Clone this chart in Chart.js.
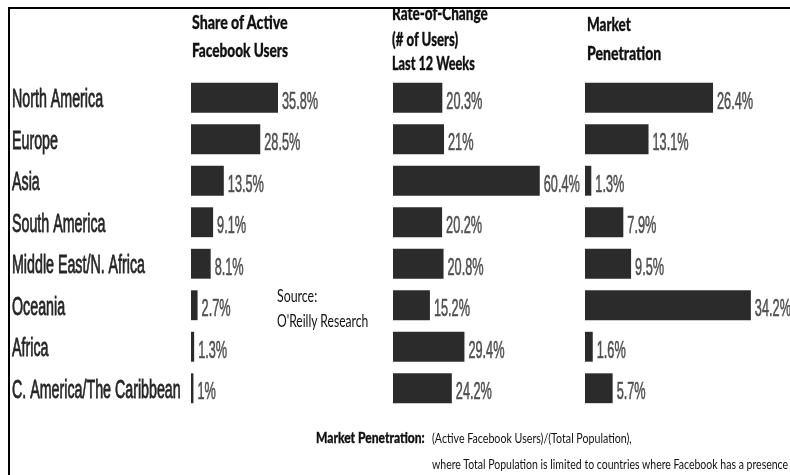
<!DOCTYPE html>
<html>
<head>
<meta charset="utf-8">
<script src="https://cdn.jsdelivr.net/npm/chart.js@4"></script>
<style>
  html, body { margin:0; padding:0; background:#fff; overflow:hidden; }
  body { width:790px; height:475px; position:relative; }
  .frame { position:absolute; left:8px; top:7px; width:790px; height:480px; border-top:2px solid #000; border-left:2px solid #000; }
  canvas { position:absolute; top:0; }
  .txt { position:absolute; white-space:nowrap; transform-origin:0 50%; color:#111; font-family:Lato, "Open Sans", sans-serif; }
  .hdr { font-weight:900; font-size:18px; -webkit-text-stroke:0.3px #111; }
  .clip { position:absolute; overflow:hidden; }
</style>
</head>
<body>
<div class="frame"></div>
<canvas id="c1" width="430" height="475" style="left:0"></canvas>
<canvas id="c2" width="240" height="475" style="left:393px"></canvas>
<canvas id="c3" width="205" height="475" style="left:585px"></canvas>
<div id="texts"></div>
<script>
const categories = ['North America','Europe','Asia','South America','Middle East/N. Africa','Oceania','Africa','C. America/The Caribbean'];
const shareOfActiveUsers = [35.8, 28.5, 13.5, 9.1, 8.1, 2.7, 1.3, 1];
const rateOfChange = [20.3, 21, 60.4, 20.2, 20.8, 15.2, 29.4, 24.2];
const marketPenetration = [26.4, 13.1, 1.3, 7.9, 9.5, 34.2, 1.6, 5.7];
const headerShare = ['Share of Active', 'Facebook Users'];
const headerRate = ['Rate-of-Change', '(# of Users)', 'Last 12 Weeks'];
const headerPenetration = ['Market', 'Penetration'];
const sourceLines = ['Source:', "O'Reilly Research"];
const noteTitle = 'Market Penetration:';
const noteLines = ['(Active Facebook Users)/(Total Population),', 'where Total Population is limited to countries where Facebook has a presence'];

const labelPlugin = {
  id: 'barLabels',
  afterDatasetsDraw(chart, args, opts) {
    const ctx = chart.ctx;
    const meta = chart.getDatasetMeta(0);
    const vals = chart.data.datasets[0].data;
    ctx.save();
    ctx.textBaseline = 'alphabetic';
    ctx.textAlign = 'left';
    ctx.fillStyle = '#505050';
    ctx.strokeStyle = '#505050';
    ctx.lineWidth = 0.6;
    ctx.font = '24px "Liberation Sans", Arial, sans-serif';
    meta.data.forEach((bar, i) => {
      ctx.save();
      ctx.translate(bar.x + 4, bar.y + 11);
      ctx.scale(0.53, 1);
      ctx.fillText(vals[i] + '%', 0, 0);
      ctx.strokeText(vals[i] + '%', 0, 0);
      ctx.restore();
    });
    if (opts.showCategories) {
      const ys = chart.scales.y;
      ctx.fillStyle = '#262626';
      ctx.strokeStyle = '#262626';
      ctx.lineWidth = 0.8;
      ctx.font = '25px "Liberation Sans", Arial, sans-serif';
      chart.data.labels.forEach((lab, i) => {
        ctx.save();
        ctx.translate(12, ys.getPixelForValue(i) + 9.5);
        ctx.scale(0.57, 1);
        ctx.fillText(lab, 0, 0);
        ctx.strokeText(lab, 0, 0);
        ctx.restore();
      });
    }
    ctx.restore();
  }
};

function makeChart(id, values, padLeft, padRight, maxVal, showCategories) {
  return new Chart(document.getElementById(id), {
    type: 'bar',
    data: {
      labels: categories,
      datasets: [{ data: values, backgroundColor: '#2b2b2b', borderWidth: 0, barPercentage: 0.72, categoryPercentage: 1 }]
    },
    options: {
      indexAxis: 'y',
      responsive: false,
      animation: false,
      layout: { padding: { left: padLeft, right: padRight, top: 77, bottom: 66 } },
      scales: {
        x: { display: false, min: 0, max: maxVal },
        y: { display: false }
      },
      plugins: { legend: { display: false }, tooltip: { enabled: false }, barLabels: { showCategories } }
    },
    plugins: [labelPlugin]
  });
}

makeChart('c1', shareOfActiveUsers, 191, 39, 200 / 2.43, true);
makeChart('c2', rateOfChange, 0, 40, 200 / 2.43, false);
makeChart('c3', marketPenetration, 0, 0, 205 / 4.85, false);

const texts = document.getElementById('texts');
function addText(parent, str, left, centerY, width, cls, size) {
  const d = document.createElement('div');
  d.className = 'txt ' + (cls || '');
  d.textContent = str;
  if (size) d.style.fontSize = size + 'px';
  parent.appendChild(d);
  const h = d.offsetHeight;
  d.style.left = left + 'px';
  d.style.top = (centerY - h / 2) + 'px';
  const w = d.offsetWidth;
  d.style.transform = 'scaleX(' + (width / w) + ')';
  return d;
}
addText(texts, headerShare[0], 192, 22, 96, 'hdr');
addText(texts, headerShare[1], 192, 50, 96, 'hdr');
const clip = document.createElement('div');
clip.className = 'clip';
clip.style.left = '0px'; clip.style.top = '9px'; clip.style.width = '790px'; clip.style.height = '80px';
texts.appendChild(clip);
addText(clip, headerRate[0], 392, 12.5 - 9, 96, 'hdr');
addText(texts, headerRate[1], 392, 39, 66, 'hdr');
addText(texts, headerRate[2], 392, 63, 83, 'hdr');
addText(texts, headerPenetration[0], 587, 24, 44, 'hdr');
addText(texts, headerPenetration[1], 587, 53, 74, 'hdr');
addText(texts, sourceLines[0], 277, 295, 40, '', 17);
addText(texts, sourceLines[1], 277, 320, 91, '', 17);
addText(texts, noteTitle, 316, 437, 109, 'hdr', 15);
addText(texts, noteLines[0], 432, 437, 200, '', 14);
addText(texts, noteLines[1], 432, 463, 356, '', 14);
</script>
</body>
</html>
